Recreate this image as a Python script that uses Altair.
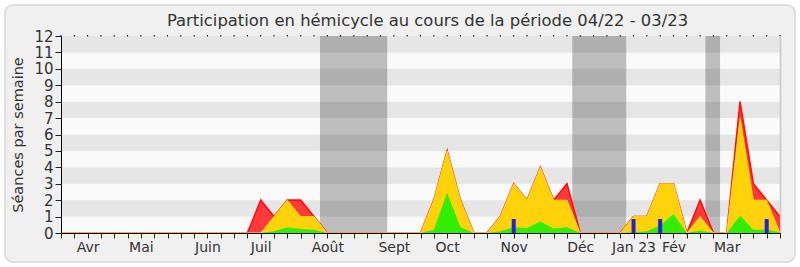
import altair as alt
import pandas as pd

# ---- data (week index 0..54) ----
weeks = list(range(0, 55))
red = [0, 0, 0, 0, 0, 0, 0, 0, 0, 0, 0, 0, 0, 0, 0, 2, 1, 2, 2, 1, 0, 0, 0, 0, 0, 0, 0, 0, 2, 5,
       2, 0, 0, 1, 3, 2, 4, 2, 3, 0, 0, 0, 0, 1, 1, 3, 3, 0, 2, 0, 0, 8, 3, 2, 1]
yellow = [0, 0, 0, 0, 0, 0, 0, 0, 0, 0, 0, 0, 0, 0, 0, 0, 1, 2, 1, 1, 0, 0, 0, 0, 0, 0, 0, 0, 2, 5,
          2, 0, 0, 1, 3, 2, 4, 2, 2, 0, 0, 0, 0, 1, 1, 3, 3, 0, 1, 0, 0, 7, 2, 2, 0]
green = [0, 0, 0, 0, 0, 0, 0, 0, 0, 0, 0, 0, 0, 0, 0, 0, 0.1, 0.35, 0.25, 0.2, 0, 0, 0, 0, 0, 0, 0, 0, 0.2, 2.45,
         0.35, 0, 0, 0.1, 0.35, 0.3, 0.7, 0.27, 0.35, 0, 0, 0, 0, 0.05, 0.1, 0.45, 1.15, 0, 0.15, 0, 0, 1.05, 0.2, 0.2, 0.05]
question_weeks = [34, 43, 45, 53]
question_vals = [0.85, 0.85, 0.85, 0.85]

vac_start = [19.45, 38.4, 48.4]
vac_end = [24.5, 42.45, 49.5]

month_pos = [2, 6, 11, 15, 20, 25, 29, 34, 39, 43, 46, 50]
month_lbl = ["Avr", "Mai", "Juin", "Juil", "Août", "Sept", "Oct", "Nov", "Déc", "Jan 23", "Fév", "Mar"]

stripe_lo = list(range(0, 12))
stripe_hi = list(range(1, 13))
y_ticks = list(range(0, 13))

TITLE = "Participation en hémicycle au cours de la période 04/22 - 03/23"
YTITLE = "Séances par semaine"
FONT = "DejaVu Sans"

W, H = 719, 197

df = pd.DataFrame({"u": weeks, "red": red, "yellow": yellow, "green": green})
dq = pd.DataFrame({"u": question_weeks, "q": question_vals})
dv = pd.DataFrame({"a": vac_start, "b": vac_end})
ds = pd.DataFrame({"lo": stripe_lo, "hi": stripe_hi,
                   "dark": [i % 2 == 1 for i in stripe_lo]})
dt = pd.DataFrame({"t": [TITLE]})

xscale = alt.Scale(domain=[0, 54], nice=False, zero=False, padding=0)
yscale = alt.Scale(domain=[0, 12], nice=False, padding=0)

arr = "[" + ",".join(str(v) for v in month_pos) + "]"
lbls = "[" + ",".join("'" + s + "'" for s in month_lbl) + "]"
label_expr = f"indexof({arr}, datum.value) >= 0 ? {lbls}[indexof({arr}, datum.value)] : ''"

xaxis = alt.Axis(values=weeks, tickCount=200, labelExpr=label_expr, tickSize=5, tickColor="#222",
                 domainColor="#000", labelOverlap=False, labelFont=FONT, labelFontSize=14,
                 labelColor="#333", labelPadding=2, title=None, grid=False, labelFlush=False,
                 zindex=2)
yaxis = alt.Axis(values=y_ticks, tickCount=50, format="d", tickSize=6, tickColor="#222", domainColor="#000",
                 labelFont=FONT, labelFontSize=15, labelColor="#333", labelPadding=2,
                 labelOverlap=False, labelFlush=False,
                 title=YTITLE, titleFont=FONT, titleFontSize=14.5, titleFontWeight="normal",
                 titleColor="#333", titlePadding=8, grid=False, zindex=2)

frame = alt.Chart(pd.DataFrame({"k": [0]})).mark_rect(
    fill="#f0f0f0", stroke="#d6d6d6", strokeWidth=1.5, cornerRadius=8
).encode(x=alt.value(-56), x2=alt.value(734), y=alt.value(-31), y2=alt.value(226))

title_t = alt.Chart(dt).mark_text(
    font=FONT, fontSize=16.4, color="#333", align="center", baseline="alphabetic"
).encode(text="t:N", x=alt.value(366.5), y=alt.value(-10))

stripes = alt.Chart(ds).mark_rect().encode(
    x=alt.datum(0, scale=xscale),
    x2=alt.datum(54),
    y=alt.Y("lo:Q", scale=yscale),
    y2="hi:Q",
    color=alt.Color("dark:N", scale=alt.Scale(domain=[False, True], range=["#fafafa", "#e6e6e6"]), legend=None),
)

topdots = alt.Chart(df).mark_rule(color="#000", strokeWidth=1).encode(
    x=alt.X("u:Q", scale=xscale),
    y=alt.value(-1), y2=alt.value(0.5),
)

vac = alt.Chart(dv).mark_rect(color="#000", opacity=0.24).encode(
    x=alt.X("a:Q", scale=xscale), x2="b:Q",
    y=alt.datum(12), y2=alt.datum(0),
)

red_a = alt.Chart(df).mark_area(fill="#ff3a3a", stroke="#ff1010", strokeWidth=1.6, interpolate="linear").encode(
    x=alt.X("u:Q", scale=xscale, axis=xaxis), y=alt.Y("red:Q", scale=yscale, stack=None, axis=yaxis))
yel_a = alt.Chart(df).mark_area(fill="#ffd20c", stroke="#ffe81c", strokeWidth=0.8, interpolate="linear").encode(
    x=alt.X("u:Q", scale=xscale), y=alt.Y("yellow:Q", scale=yscale, stack=None))
grn_a = alt.Chart(df).mark_area(fill="#32ee00", interpolate="linear").encode(
    x=alt.X("u:Q", scale=xscale), y=alt.Y("green:Q", scale=yscale, stack=None))
bars = alt.Chart(dq).mark_bar(color="#2222dd", size=4).encode(
    x=alt.X("u:Q", scale=xscale), y=alt.Y("q:Q", scale=yscale, stack=None), y2=alt.datum(0))

right_edge = alt.Chart(pd.DataFrame({"k": [0]})).mark_rule(color="#c8c8c8", strokeWidth=1.5).encode(
    x=alt.value(W + 0.5), y=alt.value(0), y2=alt.value(H))

chart = alt.layer(frame, title_t, stripes, vac, red_a, yel_a, grn_a, bars, topdots, right_edge).properties(
    width=W, height=H,
    padding={"left": 61, "top": 36, "right": 20, "bottom": 34},
    autosize=alt.AutoSizeParams(type="none"),
    background="white",
).configure_view(stroke=None)

chart.save("out.html", embed_options={"renderer": "svg", "actions": False})
